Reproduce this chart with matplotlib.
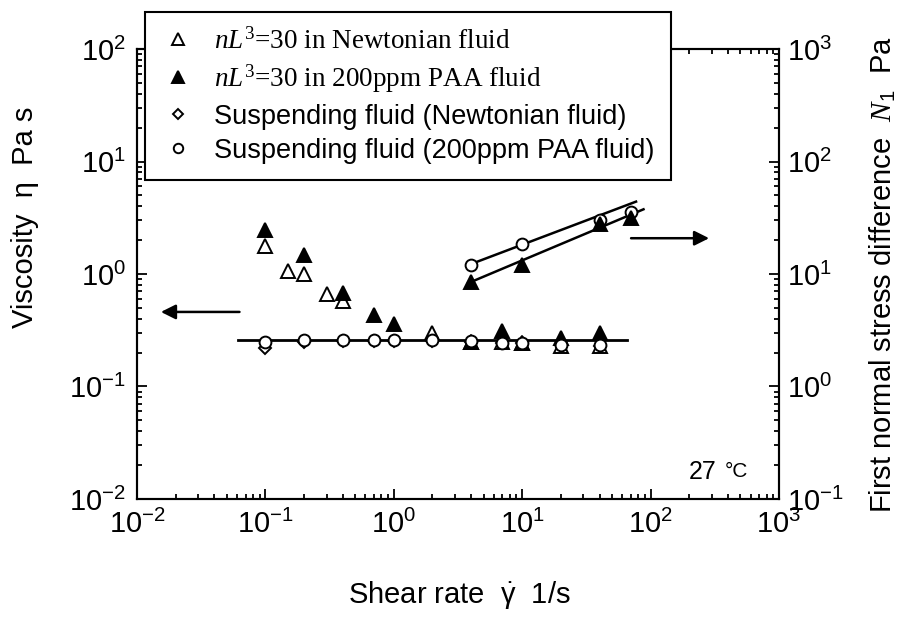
import matplotlib
matplotlib.use("Agg")
import matplotlib.pyplot as plt
from matplotlib.ticker import LogLocator, NullFormatter

plt.rcParams['font.family'] = ['Liberation Sans', 'DejaVu Sans']
plt.rcParams['mathtext.fontset'] = 'custom'
plt.rcParams['mathtext.rm'] = 'Liberation Sans'
plt.rcParams['mathtext.it'] = 'Liberation Serif:italic'
plt.rcParams['mathtext.sf'] = 'Liberation Serif'

# ---- viscosity (left axis) ----
rate_tri_newt = [0.1, 0.15, 0.2, 0.3, 0.4, 2, 4, 7, 10, 20, 40]
eta_tri_newt = [1.76, 1.07, 1.0, 0.66, 0.57, 0.30, 0.25, 0.25, 0.245, 0.23, 0.23]

rate_tri_paa = [0.1, 0.2, 0.4, 0.7, 1.0, 4, 7, 10, 20, 40]
eta_tri_paa = [2.46, 1.48, 0.68, 0.43, 0.36, 0.25, 0.31, 0.245, 0.27, 0.30]

rate_susp = [0.1, 0.2, 0.4, 0.7, 1.0, 2, 4, 7, 10, 20, 40]
eta_susp_newt = [0.22, 0.25, 0.255, 0.255, 0.255, 0.255, 0.25, 0.245, 0.245, 0.235, 0.23]
eta_susp_paa = [0.247, 0.258, 0.26, 0.26, 0.26, 0.258, 0.255, 0.245, 0.245, 0.235, 0.235]

eta_fit_x = [0.061, 65]
eta_fit_y = [0.259, 0.259]

# ---- first normal stress difference (right axis) ----
rate_n1 = [4, 10, 40, 70]
n1_susp_paa = [12.0, 18.4, 30.2, 35.8]
n1_tri_paa = [8.5, 12.0, 27.8, 31.3]

n1_fit_susp_x = [3.8, 77]
n1_fit_susp_y = [12.0, 44.0]
n1_fit_tri_x = [3.8, 88]
n1_fit_tri_y = [8.3, 37.6]

fig = plt.figure(figsize=(9.05, 6.26), dpi=100)
ax = fig.add_axes([0.1514, 0.2029, 0.7094, 0.7188])
ax2 = ax.twinx()

mk = dict(linestyle='none', markeredgecolor='black', markeredgewidth=1.4)
ax.plot(eta_fit_x, eta_fit_y, color='black', lw=2.0, zorder=2)
ax.plot(rate_tri_newt, eta_tri_newt, marker='^', markersize=10, markerfacecolor='white',
        label=r"$nL^{\mathsf{3}}$=30 in Newtonian fluid", zorder=3, **mk)
ax.plot(rate_tri_paa, eta_tri_paa, marker='^', markersize=10, markerfacecolor='black',
        label=r"$nL^{\mathsf{3}}$=30 in 200ppm PAA fluid", zorder=3, **mk)
ax.plot(rate_susp, eta_susp_newt, marker='D', markersize=6.5, markerfacecolor='white',
        label="Suspending fluid (Newtonian fluid)", zorder=3, **mk)
ax.plot(rate_susp, eta_susp_paa, marker='o', markersize=8.5, markerfacecolor='white',
        label="Suspending fluid (200ppm PAA fluid)", zorder=3, **mk)

ax2.plot(n1_fit_susp_x, n1_fit_susp_y, color='black', lw=1.8)
ax2.plot(n1_fit_tri_x, n1_fit_tri_y, color='black', lw=1.8)
ax2.plot(rate_n1, n1_susp_paa, marker='o', markersize=8.5, markerfacecolor='white', **mk)
ax2.plot(rate_n1, n1_tri_paa, marker='^', markersize=10, markerfacecolor='black', **mk)

ax.set_xscale('log')
ax.set_yscale('log')
ax2.set_yscale('log')
ax.set_xlim(1e-2, 1e3)
ax.set_ylim(1e-2, 1e2)
ax2.set_ylim(1e-1, 1e3)

for a in (ax, ax2):
    a.yaxis.set_major_locator(LogLocator(base=10, numticks=10))
    a.yaxis.set_minor_locator(LogLocator(base=10, subs=range(2, 10), numticks=10))
    a.yaxis.set_minor_formatter(NullFormatter())
    for s in a.spines.values():
        s.set_linewidth(1.5)
ax.xaxis.set_minor_locator(LogLocator(base=10, subs=range(2, 10), numticks=10))
ax.xaxis.set_minor_formatter(NullFormatter())

ax.tick_params(which='both', direction='in', top=True, labelsize=21, width=1.3, pad=8)
ax.tick_params(which='major', length=7)
ax.tick_params(which='minor', length=3.5)
ax2.tick_params(which='both', direction='in', labelsize=21, width=1.3, pad=6)
ax2.tick_params(which='major', length=7)
ax2.tick_params(which='minor', length=3.5)

# arrows pointing to the axis each data group belongs to
ax.annotate('', xy=(0.0146, 0.46), xytext=(0.066, 0.46),
            arrowprops=dict(arrowstyle='-|>', color='black', lw=1.8, mutation_scale=22))
ax.annotate('', xy=(300, 2.08), xytext=(67, 2.08),
            arrowprops=dict(arrowstyle='-|>', color='black', lw=1.8, mutation_scale=22))

ax.text(0.86, 0.06, "27", transform=ax.transAxes, fontsize=18, va='center')
ax.text(0.915, 0.06, "°C", transform=ax.transAxes, fontsize=15, va='center')

fig.text(0.508, 1 - 595 / 626, r"Shear rate  $\dot{\mathrm{\gamma}}$  1/s", fontsize=21,
         ha='center', va='center')
fig.text(25 / 905, 1 - 217 / 626, "Viscosity  η  Pa s", fontsize=21, rotation=90,
         ha='center', va='center')
fig.text(883 / 905, 1 - 275 / 626, r"First normal stress difference  $N_1$  Pa", fontsize=21,
         rotation=90, ha='center', va='center')

handles, labels = ax.get_legend_handles_labels()
leg = fig.legend(handles, labels, loc='upper left', bbox_to_anchor=(145 / 905, 1 - 12 / 626),
                 borderaxespad=0, frameon=True, fancybox=False, framealpha=1, edgecolor='black',
                 fontsize=19.5, handlelength=1.2, handletextpad=0.75, labelspacing=0.3,
                 borderpad=0.6, markerscale=0.8)
leg.get_frame().set_linewidth(1.5)
for t in leg.get_texts()[:2]:
    t.set_fontfamily('Liberation Serif')

fig.savefig("out.png", dpi=100)
